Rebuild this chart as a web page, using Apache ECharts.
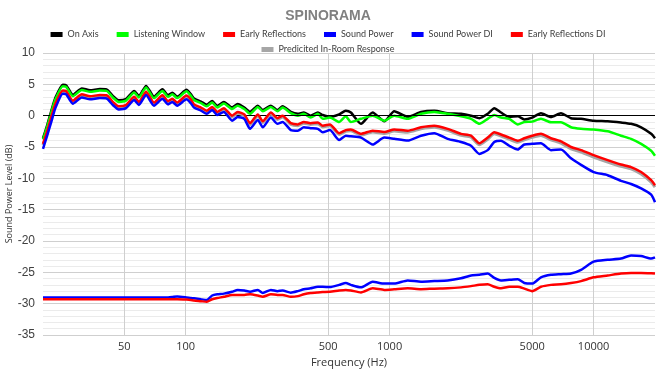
<!DOCTYPE html>
<html>
<head>
<meta charset="utf-8">
<script src="https://cdn.jsdelivr.net/npm/echarts@6/dist/echarts.min.js"></script>
<style>
html,body{margin:0;padding:0;background:#fff;}
#chart{width:656px;height:371px;}
</style>
</head>
<body>
<div id="chart"></div>
<script>
const freqs = [20,21,22,23,25,26,28,31,34,38,41,44,47,51,56,59,64,70,77,82,86,91,101,106,110,119,127,135,143,154,169,180,194,207,226,239,262,282,299,328,355,380,410,445,470,510,566,610,646,724,826,942,1054,1227,1426,1656,1926,2240,2507,2755,3027,3260,3516,3860,4250,4575,5000,5520,6180,6920,7750,8680,10000,11720,13620,15260,17100,19150,20000];

const onAxis = [-3.6,-1.45,0.85,2.85,4.95,4.85,3.35,4.35,4.05,4.25,4.2,3.15,2.45,2.65,3.95,3.15,4.75,3.05,4.2,3.25,3.65,3.05,4.15,3.45,2.75,2.25,1.75,2.35,1.55,2.2,1.3,1.85,1.3,0.6,1.6,0.9,1.6,0.9,1.5,0.6,0.3,0.5,0.0,0.5,0.1,-0.2,0.2,0.8,0.5,-1.3,0.5,-0.9,0.7,-0.2,0.6,0.8,0.4,0.3,0.0,-0.4,0.3,1.2,0.5,-0.2,-0.1,-0.6,-0.3,0.4,-0.2,0.4,-0.4,-0.5,-0.8,-0.9,-1.1,-1.3,-1.85,-2.9,-3.6];

const listeningWindow = [-3.8,-1.7,0.6,2.6,4.7,4.6,3.1,4.1,3.8,4.0,3.95,2.9,2.2,2.4,3.7,2.9,4.5,2.8,3.95,3.0,3.4,2.8,3.9,3.2,2.5,2.0,1.5,2.1,1.3,1.95,1.06,1.6,1.06,0.3,1.4,0.7,1.4,0.7,1.3,0.4,0.0,0.3,-0.3,0.3,-0.5,-0.3,-1.0,-0.1,-1.0,-0.5,0.0,-0.8,0.0,-0.5,0.3,0.6,0.3,-0.1,-0.5,-1.3,-0.5,0.1,-0.3,-0.5,-1.4,-1.0,-0.95,-0.5,-1.05,-1.05,-1.85,-2.1,-2.2,-2.5,-3.2,-3.7,-4.5,-5.6,-6.4];

const earlyReflections = [-4.5,-2.4,-0.1,1.9,4.0,3.9,2.4,3.4,3.1,3.3,3.25,2.2,1.5,1.7,3.0,2.2,3.8,2.1,3.25,2.3,2.7,2.1,3.2,2.6,1.8,1.3,0.8,1.4,0.6,1.2,0.0,0.6,0.2,-1.2,0.2,-0.9,0.5,-0.4,0.0,-1.2,-1.4,-1.0,-1.2,-1.1,-1.6,-1.4,-2.8,-2.3,-2.2,-2.9,-2.4,-2.6,-2.2,-2.4,-1.85,-1.6,-2.1,-2.9,-3.2,-4.4,-3.5,-2.65,-3.0,-3.5,-4.0,-3.6,-3.2,-2.9,-3.6,-4.1,-5.0,-5.5,-6.3,-7.1,-7.8,-8.2,-9.0,-10.3,-11.1];

const soundPower = [-5.3,-3.1,-0.9,1.2,3.5,3.4,1.9,2.9,2.6,2.8,2.75,1.7,1.0,1.2,2.5,1.7,3.3,1.6,2.7,1.8,2.2,1.6,2.6,2.0,1.3,0.8,0.3,0.9,0.1,0.6,-0.8,-0.2,-0.5,-2.1,-0.7,-1.85,-0.3,-1.3,-1.0,-2.3,-2.4,-1.85,-2.0,-2.1,-2.65,-2.3,-3.9,-3.2,-3.3,-3.5,-4.6,-3.5,-3.7,-3.97,-3.2,-2.8,-3.7,-4.2,-4.8,-6.1,-5.5,-4.2,-4.0,-4.8,-5.4,-4.6,-4.5,-4.4,-5.5,-5.4,-6.8,-7.85,-9.0,-9.5,-10.4,-10.9,-11.6,-12.6,-13.8];

const soundPowerDI = [-29.0,-29.0,-29.0,-29.0,-29.0,-29.0,-29.0,-29.0,-29.0,-29.0,-29.0,-29.0,-29.0,-29.0,-29.0,-29.0,-29.0,-29.0,-29.0,-29.0,-28.95,-28.85,-29.0,-29.1,-29.15,-29.3,-29.4,-28.7,-28.5,-28.4,-28.1,-27.8,-27.9,-28.1,-27.8,-28.3,-27.8,-28.0,-27.9,-28.25,-28.0,-27.7,-27.55,-27.3,-27.3,-27.35,-27.0,-26.7,-27.0,-27.4,-26.5,-26.8,-26.8,-26.3,-26.5,-26.4,-26.3,-25.95,-25.5,-25.4,-25.2,-25.9,-26.3,-26.2,-26.1,-26.7,-26.8,-25.8,-25.4,-25.3,-25.2,-24.6,-23.3,-23.0,-22.8,-22.3,-22.4,-22.8,-22.6];

const earlyReflectionsDI = [-29.3,-29.3,-29.3,-29.3,-29.3,-29.3,-29.3,-29.3,-29.3,-29.3,-29.3,-29.3,-29.3,-29.3,-29.3,-29.3,-29.3,-29.3,-29.3,-29.3,-29.3,-29.3,-29.35,-29.4,-29.5,-29.6,-29.7,-29.3,-29.1,-28.9,-28.6,-28.6,-28.6,-28.5,-28.7,-28.9,-28.5,-28.6,-28.6,-28.9,-28.8,-28.5,-28.3,-28.2,-28.15,-28.1,-27.9,-27.8,-27.9,-28.2,-27.55,-27.8,-27.7,-27.55,-27.7,-27.6,-27.55,-27.4,-27.2,-27.0,-26.9,-27.3,-27.55,-27.3,-27.3,-27.6,-28.0,-27.3,-27.0,-26.9,-26.7,-26.4,-25.8,-25.5,-25.2,-25.1,-25.1,-25.15,-25.2];

const predictedInRoom = [-4.7,-2.6,-0.3,1.7,3.8,3.7,2.2,3.2,2.9,3.1,3.05,2.0,1.3,1.5,2.8,2.0,3.6,1.9,3.05,2.1,2.5,1.9,3.0,2.4,1.6,1.1,0.6,1.2,0.4,1.0,-0.2,0.4,0.0,-1.4,0.0,-1.1,0.3,-0.6,-0.2,-1.4,-1.6,-1.2,-1.4,-1.3,-1.8,-1.6,-3.0,-2.5,-2.4,-3.1,-2.6,-2.85,-2.45,-2.65,-2.1,-1.85,-2.35,-3.15,-3.45,-4.65,-3.75,-2.9,-3.25,-3.75,-4.25,-3.85,-3.45,-3.15,-3.85,-4.4,-5.3,-5.8,-6.6,-7.4,-8.1,-8.5,-9.3,-10.6,-11.4];

const xTickValues = [50,100,500,1000,5000,10000];
const yTicks = {min:-35, max:10, interval:5};

const names = ['On Axis','Listening Window','Early Reflections','Sound Power','Sound Power DI','Early Reflections DI','Predicited In-Room Response'];
const colors = {'On Axis':'#000000','Listening Window':'#00ff00','Early Reflections':'#ff0000','Sound Power':'#0000ff','Sound Power DI':'#0000ff','Early Reflections DI':'#ff0000','Predicited In-Room Response':'#a6a6a6'};
const seriesData = {
  'On Axis': onAxis,
  'Listening Window': listeningWindow,
  'Predicited In-Room Response': predictedInRoom,
  'Early Reflections': earlyReflections,
  'Sound Power': soundPower,
  'Sound Power DI': soundPowerDI,
  'Early Reflections DI': earlyReflectionsDI
};
const drawOrder = ['On Axis','Listening Window','Predicited In-Room Response','Early Reflections','Sound Power','Sound Power DI','Early Reflections DI'];

const series = drawOrder.map(function(n, idx){
  const s = {
    name: n,
    type: 'line',
    showSymbol: false,
    symbol: 'none',
    smooth: 0.2,
    color: colors[n],
    lineStyle: {width: n === 'Predicited In-Room Response' ? 3 : 2.5, color: colors[n]},
    data: freqs.map(function(f,i){ return [f, seriesData[n][i]]; }),
    z: 3 + idx,
    animation: false
  };
  if (idx === 0) {
    s.markLine = {
      silent: true, symbol: 'none', label:{show:false},
      lineStyle:{color:'#000', width:1, type:'solid'},
      data:[{yAxis:0}], animation:false
    };
  }
  return s;
});

const legendText = {fontSize: 9, color: '#404040', fontFamily: 'Lato, sans-serif'};
const chart = echarts.init(document.getElementById('chart'), null, {renderer:'canvas'});
chart.setOption({
  animation: false,
  backgroundColor: '#ffffff',
  title: {text:'SPINORAMA', left:'center', top:4, textStyle:{fontSize:14, fontWeight:'bold', color:'#808080', fontFamily:'Liberation Sans, Arial, sans-serif'}},
  legend: [
    {data: names.slice(0,6), top: 25, left: 'center', itemWidth: 12, itemHeight: 5, itemGap: 18, icon: 'rect', textStyle: legendText},
    {data: names.slice(6), top: 40, left: 'center', itemWidth: 12, itemHeight: 5, itemGap: 18, icon: 'rect', textStyle: legendText}
  ],
  grid: {left: 43, right: 1, top: 53, bottom: 36, containLabel: false, outerBoundsMode: 'none'},
  xAxis: {
    type: 'log', logBase: 10, min: 20, max: 20000,
    name: 'Frequency (Hz)', nameLocation: 'middle', nameGap: 22,
    nameTextStyle: {fontSize: 11, color: '#333', fontFamily: 'Open Sans, sans-serif'},
    axisLine: {show: false},
    axisTick: {show: false, customValues: xTickValues},
    axisLabel: {customValues: xTickValues, fontSize: 11, color: '#333', margin: 6, fontFamily: 'Open Sans, sans-serif',
      formatter: function(v){ return String(Math.round(v)); }},
    splitLine: {show: true, lineStyle: {color: '#cfcfcf', width: 1}},
    minorTick: {show: false},
    minorSplitLine: {show: false}
  },
  yAxis: {
    type: 'value', min: yTicks.min, max: yTicks.max, interval: yTicks.interval,
    name: 'Sound Power Level (dB)', nameLocation: 'middle', nameGap: 29, nameRotate: 90,
    nameMoveOverlap: false,
    nameTextStyle: {fontSize: 9, color: '#333', fontFamily: 'Open Sans, sans-serif', verticalAlign: 'bottom'},
    axisLine: {show: false}, axisTick: {show: false},
    axisLabel: {fontSize: 12, color: '#404040', margin: 8, fontFamily: 'Liberation Sans, Arial, sans-serif'},
    splitLine: {show: true, lineStyle: {color: '#cfcfcf', width: 1}},
    minorTick: {show: false, splitNumber: 5},
    minorSplitLine: {show: true, lineStyle: {color: '#ebebeb', width: 1}}
  },
  series: series
});
</script>
</body>
</html>
